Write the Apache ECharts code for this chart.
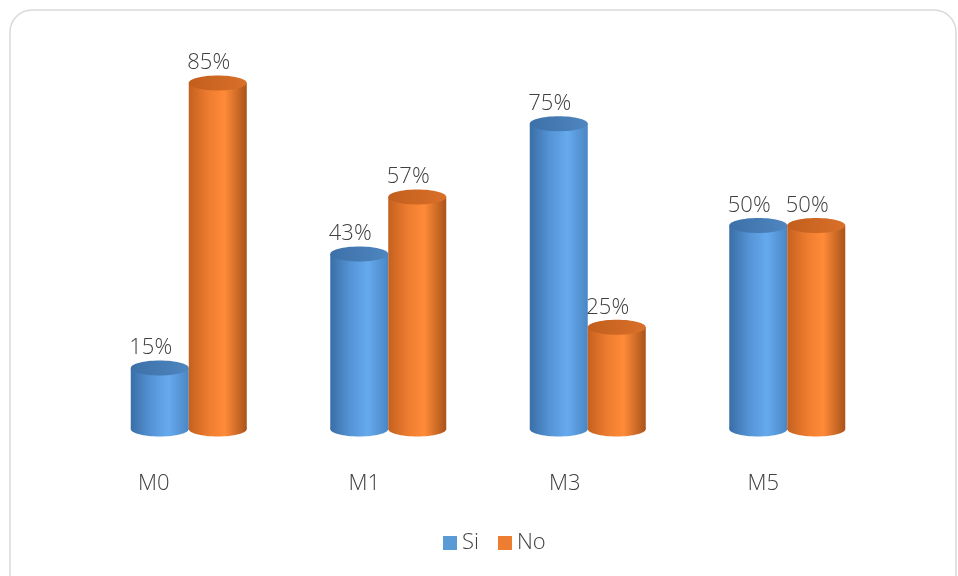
<!DOCTYPE html>
<html>
<head>
<meta charset="utf-8">
<script src="https://cdn.jsdelivr.net/npm/echarts@6/dist/echarts.min.js"></script>
<style>
html,body{margin:0;padding:0;background:#fff;}
#chart{width:958px;height:576px;}
</style>
</head>
<body>
<div id="chart"></div>
<script>
var categories = ['M0', 'M1', 'M3', 'M5'];
var siValues = [15, 43, 75, 50];
var noValues = [85, 57, 25, 50];

var chart = echarts.init(document.getElementById('chart'));

var FONT = '"Open Sans", "Noto Sans", sans-serif';
var HALF = 29;   // half width of a cylinder
var RY = 7.5;    // ellipse vertical radius

var styles = [
  {
    body: [
      {offset: 0, color: '#3a6ea6'},
      {offset: 0.35, color: '#5594d6'},
      {offset: 0.65, color: '#66aaee'},
      {offset: 1, color: '#4a86c4'}
    ],
    top: [
      {offset: 0, color: '#3c70a8'},
      {offset: 1, color: '#4f86bf'}
    ]
  },
  {
    body: [
      {offset: 0, color: '#c4611f'},
      {offset: 0.35, color: '#ef7d30'},
      {offset: 0.62, color: '#ff8b39'},
      {offset: 1, color: '#a9531a'}
    ],
    top: [
      {offset: 0, color: '#c25e1d'},
      {offset: 1, color: '#d9702a'}
    ]
  }
];

function makeRender(sIdx) {
  return function (params, api) {
    var cat = api.value(0);
    var val = api.value(1);
    var top = api.coord([cat, val]);
    var base = api.coord([cat, 0]);
    var cx = top[0] + (sIdx === 0 ? -HALF : HALF);
    var yT = top[1];
    var y0 = base[1];
    var L = cx - HALF, R = cx + HALF;
    var grad = new echarts.graphic.LinearGradient(0, 0, 1, 0, styles[sIdx].body);
    var tgrad = new echarts.graphic.LinearGradient(0, 0, 1, 0, styles[sIdx].top);
    return {
      type: 'group',
      children: [
        {
          type: 'ellipse',
          shape: {cx: cx, cy: y0, rx: HALF, ry: RY},
          style: {fill: grad}
        },
        {
          type: 'rect',
          shape: {x: L, y: yT, width: R - L, height: y0 - yT},
          style: {fill: grad}
        },
        {
          type: 'ellipse',
          shape: {cx: cx, cy: yT, rx: HALF, ry: RY},
          style: {fill: tgrad}
        },
        {
          type: 'text',
          style: {
            text: val + '%',
            x: cx - 9,
            y: yT - 20,
            align: 'center',
            verticalAlign: 'middle',
            font: '300 22px ' + FONT,
            fill: '#404040'
          }
        }
      ]
    };
  };
}

var labelRich = {};
var pads = [70, 48, 46, 48];
pads.forEach(function (p, i) {
  labelRich['p' + i] = {fontSize: 22, fontWeight: 300, fontFamily: FONT, color: '#404040', padding: [0, p, 0, 0]};
});

var option = {
  animation: false,
  backgroundColor: '#ffffff',
  graphic: [
    {
      type: 'rect',
      shape: {x: 10, y: 10, width: 946, height: 590, r: 22},
      style: {fill: 'none', stroke: '#d9d9d9', lineWidth: 1.5},
      z: -1
    }
  ],
  grid: {left: 89, right: 71, top: 22, bottom: 147},
  xAxis: {
    type: 'category',
    data: categories,
    axisLine: {show: false},
    axisTick: {show: false},
    axisLabel: {
      margin: 44,
      color: '#404040',
      fontFamily: FONT,
      fontSize: 22,
      formatter: function (v, i) {
        return '{p' + i + '|' + v + '}';
      },
      rich: labelRich
    }
  },
  yAxis: {
    type: 'value',
    min: 0,
    max: 100,
    show: false
  },
  legend: {
    data: ['Si', 'No'],
    bottom: 17,
    left: 438,
    icon: 'rect',
    itemWidth: 14,
    itemHeight: 14,
    itemGap: 19,
    textStyle: {fontSize: 22, fontWeight: 300, fontFamily: FONT, color: '#404040'}
  },
  series: [
    {
      name: 'Si',
      type: 'custom',
      itemStyle: {color: '#5b9bd5'},
      renderItem: makeRender(0),
      encode: {x: 0, y: 1},
      data: categories.map(function (c, i) { return [i, siValues[i]]; })
    },
    {
      name: 'No',
      type: 'custom',
      itemStyle: {color: '#ed7d31'},
      renderItem: makeRender(1),
      encode: {x: 0, y: 1},
      data: categories.map(function (c, i) { return [i, noValues[i]]; })
    }
  ]
};

chart.setOption(option);
</script>
</body>
</html>
